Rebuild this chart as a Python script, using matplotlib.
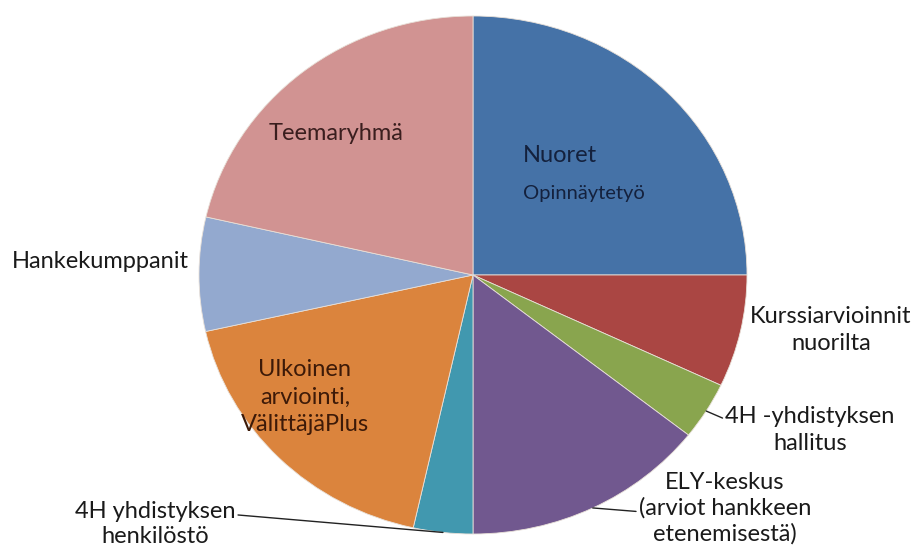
import matplotlib.pyplot as plt
import numpy as np

plt.rcParams['font.family'] = ['Lato', 'DejaVu Sans']

# slice shares (%), clockwise from 12 o'clock
labels = ['Nuoret', 'Kurssiarvioinnit\nnuorilta', '4H -yhdistyksen\nhallitus',
          'ELY-keskus\n(arviot hankkeen\netenemisestä)', '4H yhdistyksen\nhenkilöstö',
          'Ulkoinen\narviointi,\nVälittäjäPlus', 'Hankekumppanit', 'Teemaryhmä']
values = [25, 7, 3.6, 14.4, 3.5, 18, 7.1, 21.4]
colors = ['#4572A7', '#AA4643', '#89A54E', '#71588F', '#4198AF', '#DB843D', '#93A9CF', '#D19392']

W, H = 917, 547
CX, CY, RX, RY = 473, 275, 274, 259


def px(x, y):
    # pixel position -> data coords (pie centred at 0,0 radius 1)
    return (x - CX) / RX, (CY - y) / RY


fig = plt.figure(figsize=(W / 100, H / 100), dpi=100)
ax = fig.add_axes([0, 0, 1, 1])
wedges, _ = ax.pie(values, colors=colors, startangle=90, counterclock=False,
                   radius=1, center=(0, 0),
                   wedgeprops=dict(edgecolor='#e8e0d8', linewidth=0.6))
ax.set_aspect('auto')
x0, y0 = px(0, H)
x1, y1 = px(W, 0)
ax.set_xlim(x0, x1)
ax.set_ylim(y0, y1)
ax.axis('off')


def edge(w, r=1.0):
    a = np.deg2rad((w.theta1 + w.theta2) / 2)
    return r * np.cos(a), r * np.sin(a)


fs = 17
ls = 1.4
# labels inside the pie
ax.text(*px(523, 156), 'Nuoret', fontsize=17, color='#14213d', va='center', ha='left')
ax.text(*px(523, 193), 'Opinnäytetyö', fontsize=14.5, color='#14213d', va='center', ha='left')
ax.text(*px(269, 133), labels[7], fontsize=fs, color='#3a1e1e', va='center', ha='left')
ax.text(*px(305, 397), labels[5], fontsize=fs, color='#3d1a08', va='center', ha='center',
        linespacing=ls)

# labels outside
ax.text(*px(12, 262), labels[6], fontsize=fs, color='#1a1a1a', va='center', ha='left')
ax.text(*px(831, 330), labels[1], fontsize=fs, color='#1a1a1a', va='center', ha='center',
        linespacing=ls)

line = dict(arrowstyle='-', color='#222222', lw=1.0, shrinkA=0, shrinkB=0)
ax.annotate(labels[2], xy=edge(wedges[2]), xytext=px(810, 430), fontsize=fs,
            color='#1a1a1a', va='center', ha='center', linespacing=ls,
            arrowprops=dict(line, relpos=(0, 0.72)))
ax.annotate(labels[3], xy=edge(wedges[3], 1.0), xytext=px(725, 508), fontsize=fs,
            color='#1a1a1a', va='center', ha='center', linespacing=1.25,
            arrowprops=dict(line, relpos=(0.0, 0.45)))
ax.annotate(labels[4], xy=edge(wedges[4], 1.0), xytext=px(155, 524), fontsize=fs,
            color='#1a1a1a', va='center', ha='center', linespacing=1.25,
            arrowprops=dict(line, relpos=(1.0, 0.7)))

fig.savefig('out.png', dpi=100)
